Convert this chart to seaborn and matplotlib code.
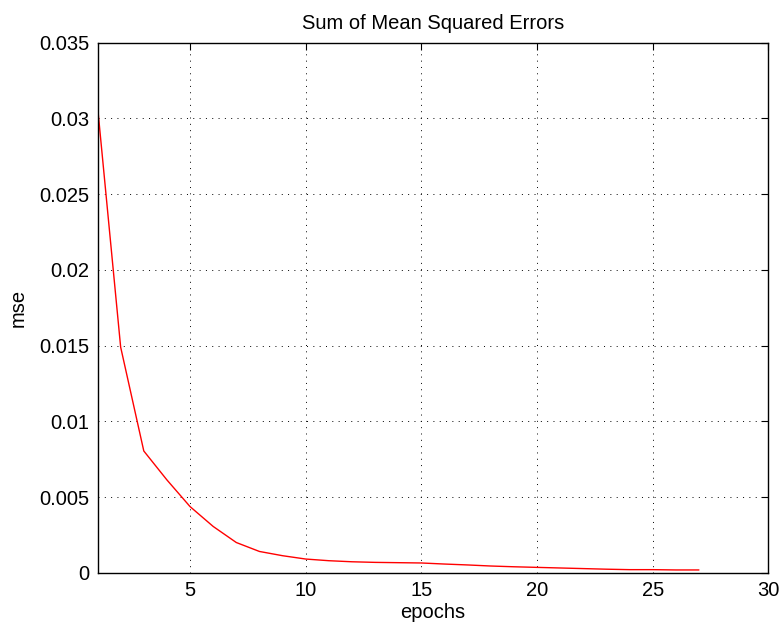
import matplotlib
matplotlib.use("Agg")
import matplotlib.pyplot as plt
import seaborn as sns
import pandas as pd
from matplotlib.ticker import FormatStrFormatter, FuncFormatter

epochs = list(range(1, 28))
mse = [0.0308, 0.0149, 0.00805, 0.00614, 0.00438, 0.00307, 0.00201, 0.00142,
       0.00114, 0.00092, 0.00081, 0.00074, 0.00070, 0.00068, 0.00066, 0.00059,
       0.00053, 0.00046, 0.00041, 0.00037, 0.00033, 0.00029, 0.00025, 0.00022,
       0.00022, 0.00020, 0.00020]
xticks = [5, 10, 15, 20, 25, 30]
yticks = [0, 0.005, 0.01, 0.015, 0.02, 0.025, 0.03, 0.035]

df = pd.DataFrame({"epochs": epochs, "mse": mse})

sns.set_theme(style="white")
plt.rcParams["font.family"] = ["Liberation Sans", "DejaVu Sans"]

fig = plt.figure(figsize=(7.84, 6.3), dpi=100)
ax = fig.add_axes([0.1244, 0.0905, 0.8556, 0.842])
sns.lineplot(data=df, x="epochs", y="mse", color="#ff0000", linewidth=1.0, ax=ax)

ax.set_xlim(1, 30)
ax.set_ylim(0, 0.035)
ax.set_xticks(xticks)
ax.set_yticks(yticks)
ax.yaxis.set_major_formatter(FuncFormatter(lambda v, p: "0" if v == 0 else f"{v:g}"))
ax.tick_params(direction="in", length=5, width=0.8, color="black",
               top=True, right=True, labelsize=14.5, labelcolor="black", pad=6)
ax.grid(True, color="black", linestyle=(0, (1, 5.5)), linewidth=0.7)
for s in ax.spines.values():
    s.set_color("black")
    s.set_linewidth(1.0)
    s.set_visible(True)
ax.set_xlabel("epochs", fontsize=14.5, color="black", labelpad=2)
ax.set_ylabel("mse", fontsize=14.5, color="black", labelpad=8)
ax.set_title("Sum of Mean Squared Errors", fontsize=14.5, color="black", pad=10)

fig.savefig("out.png", dpi=100)
